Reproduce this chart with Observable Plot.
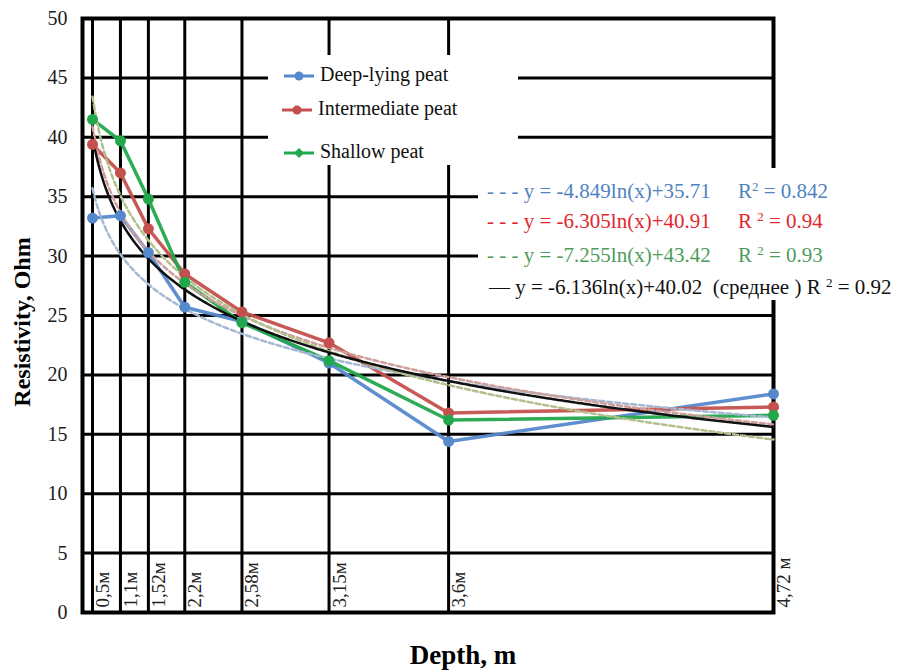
<!DOCTYPE html>
<html>
<head>
<meta charset="utf-8">
<script src="https://cdn.jsdelivr.net/npm/d3@7"></script>
<script src="https://cdn.jsdelivr.net/npm/@observablehq/plot@0.6"></script>
<style>
  html, body { margin: 0; padding: 0; background: #fff; }
  #wrap { position: relative; width: 912px; height: 671px; font-family: "Liberation Serif", Tinos, "Times New Roman", "DejaVu Serif", serif; }
  .box { position: absolute; background: #fff; }
  .leg { position: absolute; font-size: 20px; color: #111; white-space: nowrap; line-height: 1; }
  .leg svg { vertical-align: middle; }
  .eq { position: absolute; font-size: 21px; white-space: nowrap; line-height: 1; }
  .eq sup { font-size: 13px; vertical-align: 0.55em; line-height: 0; }
  .ytitle { position: absolute; font-weight: bold; font-size: 24px; white-space: nowrap; transform: translate(-50%, -50%) rotate(-90deg); }
  .xtitle { position: absolute; font-weight: bold; font-size: 27px; white-space: nowrap; transform: translate(-50%, -50%); }
</style>
</head>
<body>
<div id="wrap"></div>
<script>
// ---- data ----
const depthLabels = ["0,5м", "1,1м", "1,52м", "2,2м", "2,58м", "3,15м", "3,6м", "4,72 м"];
// position of each depth on the chart's (category) x axis, in the units used by the ln(x) trend lines
const depthAxisX = [1, 3.15, 5.3, 8.1, 12.5, 19.2, 28.4, 53.4];
const deepLying = [33.2, 33.4, 30.3, 25.7, 24.5, 21.0, 14.4, 18.4];
const intermediate = [39.4, 37.0, 32.3, 28.5, 25.3, 22.7, 16.8, 17.3];
const shallow = [41.5, 39.7, 34.8, 27.8, 24.4, 21.2, 16.2, 16.6];
const yTicks = [0, 5, 10, 15, 20, 25, 30, 35, 40, 45, 50];
const seriesNames = ["Deep-lying peat", "Intermediate peat", "Shallow peat"];
const seriesColors = ["#5689cc", "#c4514e", "#22a84c"];
const trendA = [-4.849, -6.305, -7.255, -6.136];
const trendB = [35.71, 40.91, 43.42, 40.02];
const trendR2 = ["0.842", "0.94", "0.93", "0.92"];
const trendColors = ["#a6b9d2", "#cf9f9c", "#b3c08c", "#111111"];
const eqTextColors = ["#4f82bf", "#e3262c", "#4e9c5c", "#111111"];

const FONT = "'Liberation Serif', Tinos, 'Times New Roman', 'DejaVu Serif', serif";

// ---- tables ----
const allSeries = [deepLying, intermediate, shallow];
const points = allSeries.flatMap((vals, s) => vals.map((v, i) => ({series: seriesNames[s], s, x: depthAxisX[i], y: v})));
const xMin = depthAxisX[0], xMax = depthAxisX[depthAxisX.length - 1];
const trendPts = [];
for (let t = 0; t < trendA.length; t++) {
  const n = 300;
  for (let k = 0; k <= n; k++) {
    const x = xMin + (xMax - xMin) * k / n;
    trendPts.push({t, x, y: trendA[t] * Math.log(x) + trendB[t]});
  }
}
const labelRows = depthLabels.map((l, i) => ({x: depthAxisX[i], text: l}));

const plot = Plot.plot({
  width: 912,
  height: 671,
  marginLeft: 82,
  marginRight: 139,
  marginTop: 18,
  marginBottom: 59,
  style: {fontFamily: FONT, fontSize: "20px", color: "#1a1a1a", background: "#fff"},
  x: {type: "linear", domain: [0.23, 53.4], axis: null},
  y: {domain: [0, 50], axis: null},
  marks: [
    Plot.ruleY(yTicks, {stroke: "#000", strokeWidth: 3}),
    Plot.ruleX(depthAxisX, {stroke: "#000", strokeWidth: 3}),
    Plot.frame({stroke: "#000", strokeWidth: 4}),
    Plot.axisY(yTicks, {tickSize: 0, tickPadding: 15, fontSize: 20, fontFamily: FONT, label: null}),
    Plot.text(labelRows, {x: "x", text: "text", frameAnchor: "bottom", rotate: -90, textAnchor: "start", lineAnchor: "top", dx: 3, dy: -5, fontSize: 19, fontFamily: "'Liberation Sans Narrow', " + FONT, fill: "#222"}),
    Plot.line(points, {x: "x", y: "y", z: "series", stroke: d => seriesColors[d.s], strokeWidth: 3.5, strokeOpacity: 0.95}),
    Plot.line(trendPts.filter(d => d.t < 3), {x: "x", y: "y", z: "t", stroke: d => trendColors[d.t], strokeWidth: 2.5, strokeDasharray: "5,3"}),
    Plot.line(trendPts.filter(d => d.t === 3), {x: "x", y: "y", stroke: trendColors[3], strokeWidth: 2.5}),
    Plot.dot(points, {x: "x", y: "y", fill: d => seriesColors[d.s], r: 5.5})
  ]
});

const wrap = document.getElementById("wrap");
wrap.appendChild(plot);

// legend box
const legBox = document.createElement("div");
legBox.className = "box";
Object.assign(legBox.style, {left: "268px", top: "55px", width: "250px", height: "110px"});
wrap.appendChild(legBox);
const legTops = [64, 98, 141];
const legLefts = [283, 281, 283];
seriesNames.forEach((name, i) => {
  const d = document.createElement("div");
  d.className = "leg";
  d.style.left = legLefts[i] + "px";
  d.style.top = legTops[i] + "px";
  const marker = i === 2
    ? `<path d="M16,4 L21,9 L16,14 L11,9 Z" fill="${seriesColors[i]}"/>`
    : `<circle cx="16" cy="9" r="4.5" fill="${seriesColors[i]}"/>`;
  d.innerHTML = `<svg width="32" height="18"><line x1="1" y1="9" x2="31" y2="9" stroke="${seriesColors[i]}" stroke-width="3"/>${marker}</svg> ${name}`;
  wrap.appendChild(d);
});

// equations box
const eqBox = document.createElement("div");
eqBox.className = "box";
Object.assign(eqBox.style, {left: "478px", top: "168px", width: "434px", height: "132px"});
wrap.appendChild(eqBox);
const eqTops = [181, 211, 245, 277];
trendA.forEach((a, t) => {
  const d = document.createElement("div");
  d.className = "eq";
  d.style.top = eqTops[t] + "px";
  d.style.color = eqTextColors[t];
  const eq = `y = ${a.toFixed(3)}ln(x)+${trendB[t].toFixed(2)}`;
  if (t < 3) {
    d.style.left = "487px";
    const r = t === 0 ? `R<sup>2</sup> = ${trendR2[t]}` : `R <sup>2</sup> = ${trendR2[t]}`;
    d.innerHTML = `<span style="display:inline-block;width:251px">- - - ${eq}</span>${r}`;
  } else {
    d.style.left = "489px";
    d.innerHTML = `— ${eq}&nbsp;&nbsp;(среднее ) R <sup>2</sup> = ${trendR2[t]}`;
  }
  wrap.appendChild(d);
});

// axis titles
const yt = document.createElement("div");
yt.className = "ytitle";
yt.textContent = "Resistivity, Ohm";
Object.assign(yt.style, {left: "22px", top: "322px"});
wrap.appendChild(yt);
const xt = document.createElement("div");
xt.className = "xtitle";
xt.textContent = "Depth, m";
Object.assign(xt.style, {left: "463px", top: "655px"});
wrap.appendChild(xt);
</script>
</body>
</html>
